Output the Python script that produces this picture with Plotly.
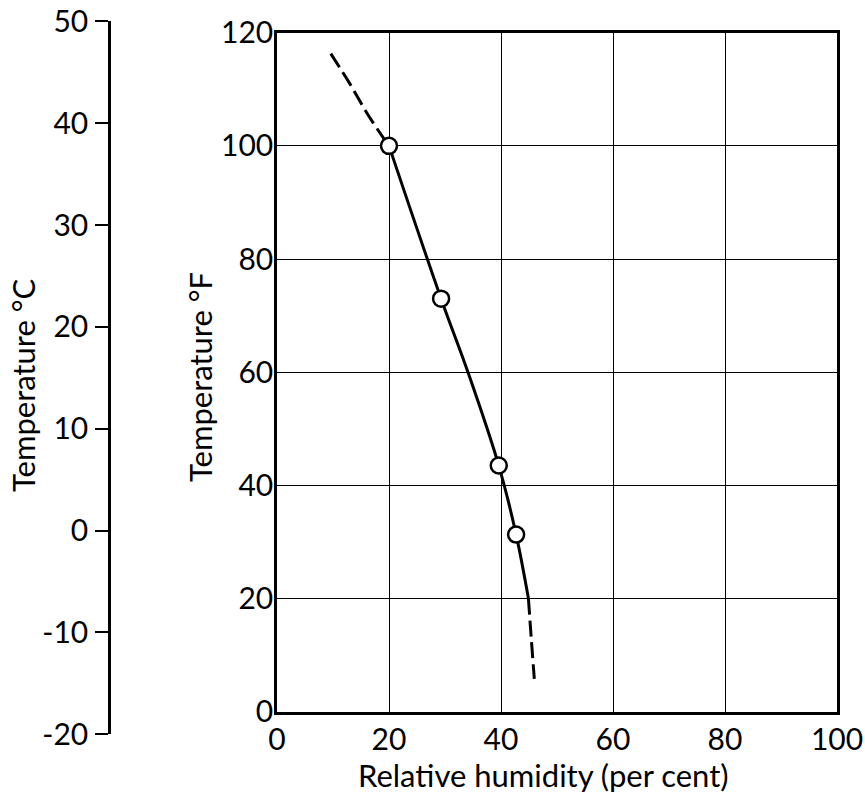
import plotly.graph_objects as go

# ---- data ----
rh_points = [20, 29.3, 39.6, 42.7]          # measured points, relative humidity (%)
tf_points = [100, 73, 43.5, 31.3]           # temperature (°F)

rh_solid = [20, 29.3, 34.1, 39.6, 42.7, 44.9]
tf_solid = [100, 73, 60, 43.5, 31.3, 20]

rh_dash_top = [9.6, 13.0, 16.3, 20]
tf_dash_top = [116.3, 111.0, 105.4, 100]

rh_dash_bottom = [44.9, 45.4, 45.95]
tf_dash_bottom = [20, 13, 5.8]

x_ticks = [0, 20, 40, 60, 80, 100]
f_ticks = [0, 20, 40, 60, 80, 100, 120]
c_ticks = [-20, -10, 0, 10, 20, 30, 40, 50]
c_ticktext = ["-20", "-10", "0", "10", "20", "30", "40", "50"]

W, H = 865, 804
FONT = "Lato"

# plot-area placement (pixels)
left_px, right_px, top_px, bottom_px = 277, 837, 32.7, 711.7
xdom = [left_px / W, right_px / W]
ydom = [1 - bottom_px / H, 1 - top_px / H]
f_per = (ydom[1] - ydom[0]) / 120.0
# Celsius axis aligned with the Fahrenheit scale
c_lo_f = -20 * 1.8 + 32
c_hi_f = 50 * 1.8 + 32
cdom = [ydom[0] + c_lo_f * f_per, ydom[0] + c_hi_f * f_per]
c_axis_x = 111 / W

fig = go.Figure()

dash_line = dict(color="black", width=3, dash="16px,6px", shape="spline")
fig.add_trace(go.Scatter(x=rh_dash_top, y=tf_dash_top, mode="lines",
                         line=dash_line, hoverinfo="skip"))
fig.add_trace(go.Scatter(x=rh_dash_bottom, y=tf_dash_bottom, mode="lines",
                         line=dash_line, hoverinfo="skip"))
fig.add_trace(go.Scatter(x=rh_solid, y=tf_solid, mode="lines",
                         line=dict(color="black", width=3, shape="spline", smoothing=1),
                         hoverinfo="skip"))
fig.add_trace(go.Scatter(x=rh_points, y=tf_points, mode="markers",
                         marker=dict(size=16, color="white",
                                     line=dict(color="black", width=2.5))))
# invisible trace to realise the Celsius axis
fig.add_trace(go.Scatter(x=[0], y=[0], xaxis="x2", yaxis="y2", mode="markers",
                         marker=dict(opacity=0), hoverinfo="skip"))

axis_font = dict(family=FONT, size=30, color="black")
title_font = dict(family=FONT, size=31, color="black")

fig.update_layout(
    width=W, height=H,
    margin=dict(l=0, r=0, t=0, b=0, autoexpand=False),
    paper_bgcolor="white", plot_bgcolor="white",
    showlegend=False,
    xaxis=dict(domain=xdom, range=[0, 100], tickvals=x_ticks,
               showgrid=True, gridcolor="black", gridwidth=1.3,
               showline=True, linecolor="black", linewidth=2.5, mirror=True,
               ticks="", zeroline=False, tickfont=axis_font,
               ticklabelstandoff=0, anchor="y", automargin=False),
    yaxis=dict(domain=ydom, range=[0, 120], tickvals=f_ticks,
               showgrid=True, gridcolor="black", gridwidth=1.3,
               showline=True, linecolor="black", linewidth=2.5, mirror=True,
               ticks="", zeroline=False, tickfont=axis_font,
               ticklabelstandoff=-5, anchor="x", automargin=False),
    xaxis2=dict(domain=[c_axis_x, c_axis_x + 0.05], visible=False,
                range=[0, 1], anchor="y2", automargin=False),
    yaxis2=dict(domain=cdom, range=[-20, 50], tickvals=c_ticks, ticktext=c_ticktext,
                showgrid=False, zeroline=False,
                showline=True, linecolor="black", linewidth=2.5,
                ticks="outside", ticklen=13, tickwidth=2, tickcolor="black",
                tickfont=axis_font, ticklabelstandoff=1,
                anchor="x2", side="left", automargin=False),
    annotations=[
        dict(text="Relative humidity (per cent)", x=543 / W, y=1 - 775 / H,
             xref="paper", yref="paper", showarrow=False, font=title_font,
             xanchor="center", yanchor="middle"),
        dict(text="Temperature °C", x=23 / W, y=1 - 385 / H,
             xref="paper", yref="paper", showarrow=False, textangle=-90,
             font=title_font, xanchor="center", yanchor="middle"),
        dict(text="Temperature °F", x=200 / W, y=1 - 377 / H,
             xref="paper", yref="paper", showarrow=False, textangle=-90,
             font=title_font, xanchor="center", yanchor="middle"),
    ],
)

# remove the default 8px page margin so the figure sits at the window's corner
fig.write_html("out.html", config={"displayModeBar": False},
               post_script="document.body.style.margin='0';")
